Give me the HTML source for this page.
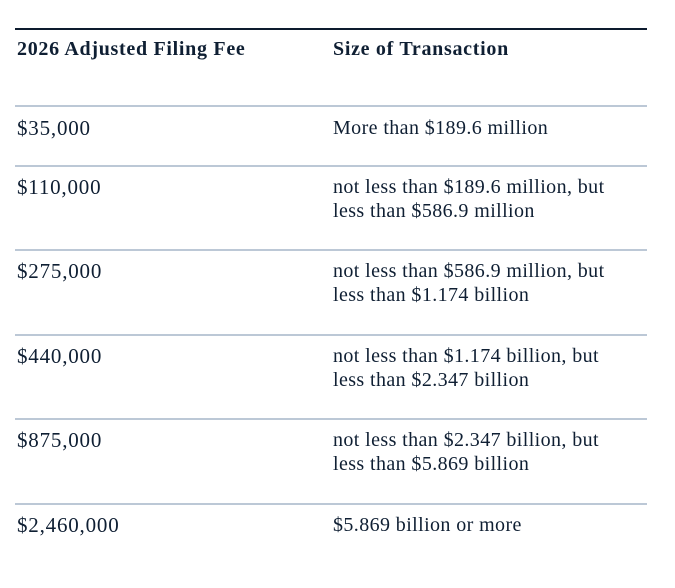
<!DOCTYPE html>
<html><head><style>
body{margin:0;width:675px;height:588px;background:#fff;position:relative;font-family:"Liberation Serif",serif;color:#0f1f33;font-size:20px;letter-spacing:0.4px;}
.t{position:absolute;white-space:nowrap;line-height:24px;}
.n{font-size:21px;letter-spacing:0.8px;}
.b{font-weight:bold;letter-spacing:0.7px;font-size:20px;}
.l{position:absolute;left:15px;width:632px;height:2px;background:#bcc8d6;}
</style></head><body>
<div class="l" style="top:28px;background:#0d1b2e;height:2px"></div>
<div class="t b" style="left:17px;top:37px">2026 Adjusted Filing Fee</div>
<div class="t b" style="left:333px;top:37px">Size of Transaction</div>
<div class="l" style="top:105px"></div>
<div class="t n" style="left:17px;top:116px">$35,000</div>
<div class="t" style="left:333px;top:116px">More than $189.6 million</div>
<div class="l" style="top:165px"></div>
<div class="t n" style="left:17px;top:175px">$110,000</div>
<div class="t" style="left:333px;top:175px">not less than $189.6 million, but<br>less than $586.9 million</div>
<div class="l" style="top:249px"></div>
<div class="t n" style="left:17px;top:259px">$275,000</div>
<div class="t" style="left:333px;top:259px">not less than $586.9 million, but<br>less than $1.174 billion</div>
<div class="l" style="top:334px"></div>
<div class="t n" style="left:17px;top:344px">$440,000</div>
<div class="t" style="left:333px;top:344px">not less than $1.174 billion, but<br>less than $2.347 billion</div>
<div class="l" style="top:418px"></div>
<div class="t n" style="left:17px;top:428px">$875,000</div>
<div class="t" style="left:333px;top:428px">not less than $2.347 billion, but<br>less than $5.869 billion</div>
<div class="l" style="top:503px"></div>
<div class="t n" style="left:17px;top:513px">$2,460,000</div>
<div class="t" style="left:333px;top:513px">$5.869 billion or more</div>
</body></html>
